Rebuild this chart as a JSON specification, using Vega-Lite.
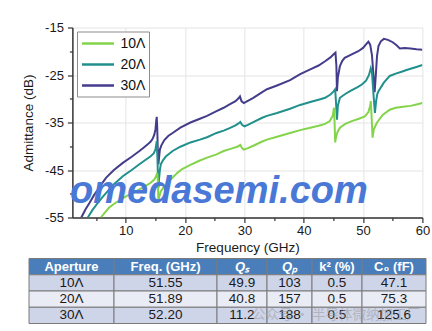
{
  "$schema": "https://vega.github.io/schema/vega-lite/v6.json",
  "background": "white",
  "padding": {"left": 21, "top": 21.5, "right": 0, "bottom": 0},
  "config": {
    "font": "Liberation Sans",
    "view": {"stroke": null},
    "axis": {
      "domainColor": "#333333", "domainWidth": 1.5,
      "tickColor": "#333333", "tickWidth": 1.2,
      "gridColor": "#e4e4e4", "gridWidth": 1,
      "labelColor": "#1a1a1a", "titleColor": "#1a1a1a",
      "labelFont": "Liberation Sans", "titleFont": "Liberation Sans"
    }
  },
  "datasets": {
    "curves": [
      {"aperture": "30Λ", "freq": 2.5, "adm": -55},
      {"aperture": "30Λ", "freq": 3.2, "adm": -53.3},
      {"aperture": "30Λ", "freq": 3.9, "adm": -51.9},
      {"aperture": "30Λ", "freq": 4.6, "adm": -50.4},
      {"aperture": "30Λ", "freq": 5.3, "adm": -49.1},
      {"aperture": "30Λ", "freq": 6.0, "adm": -47.8},
      {"aperture": "30Λ", "freq": 6.7, "adm": -46.6},
      {"aperture": "30Λ", "freq": 8.0, "adm": -45.0},
      {"aperture": "30Λ", "freq": 9.5, "adm": -43.5},
      {"aperture": "30Λ", "freq": 11.0, "adm": -42.2},
      {"aperture": "30Λ", "freq": 12.3, "adm": -41.0},
      {"aperture": "30Λ", "freq": 13.0, "adm": -40.3},
      {"aperture": "30Λ", "freq": 13.7, "adm": -39.6},
      {"aperture": "30Λ", "freq": 14.2, "adm": -39.0},
      {"aperture": "30Λ", "freq": 14.5, "adm": -38.5},
      {"aperture": "30Λ", "freq": 14.8, "adm": -37.6},
      {"aperture": "30Λ", "freq": 15.0, "adm": -36.5},
      {"aperture": "30Λ", "freq": 15.15, "adm": -34.5},
      {"aperture": "30Λ", "freq": 15.22, "adm": -33.8},
      {"aperture": "30Λ", "freq": 15.3, "adm": -36},
      {"aperture": "30Λ", "freq": 15.4, "adm": -41},
      {"aperture": "30Λ", "freq": 15.5, "adm": -43.8},
      {"aperture": "30Λ", "freq": 15.6, "adm": -42.5},
      {"aperture": "30Λ", "freq": 15.75, "adm": -40.7},
      {"aperture": "30Λ", "freq": 16.0, "adm": -39.8},
      {"aperture": "30Λ", "freq": 16.5, "adm": -38.7},
      {"aperture": "30Λ", "freq": 17.2, "adm": -37.8},
      {"aperture": "30Λ", "freq": 17.9, "adm": -37.2},
      {"aperture": "30Λ", "freq": 19.2, "adm": -36.1},
      {"aperture": "30Λ", "freq": 20.9, "adm": -35.0},
      {"aperture": "30Λ", "freq": 22.5, "adm": -34.2},
      {"aperture": "30Λ", "freq": 23.7, "adm": -33.6},
      {"aperture": "30Λ", "freq": 25.3, "adm": -32.6},
      {"aperture": "30Λ", "freq": 26.5, "adm": -31.9},
      {"aperture": "30Λ", "freq": 27.5, "adm": -31.2},
      {"aperture": "30Λ", "freq": 28.5, "adm": -30.5},
      {"aperture": "30Λ", "freq": 29.0, "adm": -29.9},
      {"aperture": "30Λ", "freq": 29.25, "adm": -29.5},
      {"aperture": "30Λ", "freq": 29.5, "adm": -30.5},
      {"aperture": "30Λ", "freq": 29.9, "adm": -30.9},
      {"aperture": "30Λ", "freq": 30.5, "adm": -30.5},
      {"aperture": "30Λ", "freq": 31.5, "adm": -29.8},
      {"aperture": "30Λ", "freq": 33.0, "adm": -28.6},
      {"aperture": "30Λ", "freq": 33.8, "adm": -28.0},
      {"aperture": "30Λ", "freq": 35.5, "adm": -27.2},
      {"aperture": "30Λ", "freq": 37.7, "adm": -26.1},
      {"aperture": "30Λ", "freq": 39.4, "adm": -24.8},
      {"aperture": "30Λ", "freq": 41.1, "adm": -23.8},
      {"aperture": "30Λ", "freq": 42.5, "adm": -23.0},
      {"aperture": "30Λ", "freq": 43.6, "adm": -22.1},
      {"aperture": "30Λ", "freq": 44.5, "adm": -21.3},
      {"aperture": "30Λ", "freq": 45.0, "adm": -20.7},
      {"aperture": "30Λ", "freq": 45.35, "adm": -20.3},
      {"aperture": "30Λ", "freq": 45.5, "adm": -23},
      {"aperture": "30Λ", "freq": 45.6, "adm": -28.4},
      {"aperture": "30Λ", "freq": 45.75, "adm": -25.5},
      {"aperture": "30Λ", "freq": 46.1, "adm": -23.1},
      {"aperture": "30Λ", "freq": 46.5, "adm": -22.0},
      {"aperture": "30Λ", "freq": 46.9, "adm": -21.4},
      {"aperture": "30Λ", "freq": 48.0, "adm": -20.7},
      {"aperture": "30Λ", "freq": 49.2, "adm": -20.0},
      {"aperture": "30Λ", "freq": 50.0, "adm": -19.3},
      {"aperture": "30Λ", "freq": 50.6, "adm": -18.4},
      {"aperture": "30Λ", "freq": 50.9, "adm": -18.0},
      {"aperture": "30Λ", "freq": 51.2, "adm": -18.6},
      {"aperture": "30Λ", "freq": 51.5, "adm": -20.8},
      {"aperture": "30Λ", "freq": 51.75, "adm": -25},
      {"aperture": "30Λ", "freq": 51.95, "adm": -28.6},
      {"aperture": "30Λ", "freq": 52.15, "adm": -25},
      {"aperture": "30Λ", "freq": 52.35, "adm": -21},
      {"aperture": "30Λ", "freq": 52.6, "adm": -18.9},
      {"aperture": "30Λ", "freq": 53.0, "adm": -17.9},
      {"aperture": "30Λ", "freq": 53.5, "adm": -17.4},
      {"aperture": "30Λ", "freq": 54.2, "adm": -17.6},
      {"aperture": "30Λ", "freq": 55.0, "adm": -18.1},
      {"aperture": "30Λ", "freq": 55.6, "adm": -18.7},
      {"aperture": "30Λ", "freq": 56.2, "adm": -19.4},
      {"aperture": "30Λ", "freq": 57.0, "adm": -19.3},
      {"aperture": "30Λ", "freq": 58.0, "adm": -19.4},
      {"aperture": "30Λ", "freq": 59.0, "adm": -19.6},
      {"aperture": "30Λ", "freq": 60.0, "adm": -19.7},

      {"aperture": "20Λ", "freq": 3.6, "adm": -55},
      {"aperture": "20Λ", "freq": 4.4, "adm": -53.4},
      {"aperture": "20Λ", "freq": 5.3, "adm": -51.9},
      {"aperture": "20Λ", "freq": 6.0, "adm": -50.8},
      {"aperture": "20Λ", "freq": 6.7, "adm": -49.8},
      {"aperture": "20Λ", "freq": 8.0, "adm": -48.0},
      {"aperture": "20Λ", "freq": 9.5, "adm": -46.3},
      {"aperture": "20Λ", "freq": 11.0, "adm": -45.0},
      {"aperture": "20Λ", "freq": 12.3, "adm": -43.8},
      {"aperture": "20Λ", "freq": 13.3, "adm": -42.9},
      {"aperture": "20Λ", "freq": 14.2, "adm": -42.1},
      {"aperture": "20Λ", "freq": 14.7, "adm": -41.5},
      {"aperture": "20Λ", "freq": 15.0, "adm": -40.7},
      {"aperture": "20Λ", "freq": 15.15, "adm": -39.5},
      {"aperture": "20Λ", "freq": 15.22, "adm": -38.9},
      {"aperture": "20Λ", "freq": 15.32, "adm": -42},
      {"aperture": "20Λ", "freq": 15.42, "adm": -46},
      {"aperture": "20Λ", "freq": 15.5, "adm": -48.8},
      {"aperture": "20Λ", "freq": 15.6, "adm": -47},
      {"aperture": "20Λ", "freq": 15.75, "adm": -45},
      {"aperture": "20Λ", "freq": 15.9, "adm": -43.8},
      {"aperture": "20Λ", "freq": 16.3, "adm": -42.9},
      {"aperture": "20Λ", "freq": 16.8, "adm": -42.1},
      {"aperture": "20Λ", "freq": 17.9, "adm": -41.0},
      {"aperture": "20Λ", "freq": 19.2, "adm": -40.1},
      {"aperture": "20Λ", "freq": 20.9, "adm": -39.2},
      {"aperture": "20Λ", "freq": 22.5, "adm": -38.6},
      {"aperture": "20Λ", "freq": 23.7, "adm": -38.1},
      {"aperture": "20Λ", "freq": 25.3, "adm": -37.2},
      {"aperture": "20Λ", "freq": 26.5, "adm": -36.7},
      {"aperture": "20Λ", "freq": 27.5, "adm": -36.2},
      {"aperture": "20Λ", "freq": 28.5, "adm": -35.6},
      {"aperture": "20Λ", "freq": 29.0, "adm": -35.2},
      {"aperture": "20Λ", "freq": 29.3, "adm": -34.9},
      {"aperture": "20Λ", "freq": 29.6, "adm": -35.5},
      {"aperture": "20Λ", "freq": 30.0, "adm": -35.8},
      {"aperture": "20Λ", "freq": 30.6, "adm": -35.5},
      {"aperture": "20Λ", "freq": 31.5, "adm": -34.9},
      {"aperture": "20Λ", "freq": 33.0, "adm": -34.0},
      {"aperture": "20Λ", "freq": 33.8, "adm": -33.6},
      {"aperture": "20Λ", "freq": 35.5, "adm": -33.0},
      {"aperture": "20Λ", "freq": 37.7, "adm": -32.1},
      {"aperture": "20Λ", "freq": 39.4, "adm": -31.3},
      {"aperture": "20Λ", "freq": 41.1, "adm": -30.7},
      {"aperture": "20Λ", "freq": 42.8, "adm": -30.1},
      {"aperture": "20Λ", "freq": 43.6, "adm": -29.8},
      {"aperture": "20Λ", "freq": 44.5, "adm": -29.1},
      {"aperture": "20Λ", "freq": 45.0, "adm": -28.5},
      {"aperture": "20Λ", "freq": 45.3, "adm": -28.0},
      {"aperture": "20Λ", "freq": 45.45, "adm": -31},
      {"aperture": "20Λ", "freq": 45.6, "adm": -34.4},
      {"aperture": "20Λ", "freq": 45.75, "adm": -31.5},
      {"aperture": "20Λ", "freq": 46.1, "adm": -29.8},
      {"aperture": "20Λ", "freq": 47.0, "adm": -29.0},
      {"aperture": "20Λ", "freq": 47.8, "adm": -28.4},
      {"aperture": "20Λ", "freq": 49.0, "adm": -27.6},
      {"aperture": "20Λ", "freq": 49.8, "adm": -27.0},
      {"aperture": "20Λ", "freq": 50.5, "adm": -26.2},
      {"aperture": "20Λ", "freq": 51.0, "adm": -25.0},
      {"aperture": "20Λ", "freq": 51.3, "adm": -23.6},
      {"aperture": "20Λ", "freq": 51.5, "adm": -24.5},
      {"aperture": "20Λ", "freq": 51.75, "adm": -29},
      {"aperture": "20Λ", "freq": 52.0, "adm": -33.0},
      {"aperture": "20Λ", "freq": 52.2, "adm": -30.5},
      {"aperture": "20Λ", "freq": 52.4, "adm": -29},
      {"aperture": "20Λ", "freq": 52.6, "adm": -28.4},
      {"aperture": "20Λ", "freq": 53.5, "adm": -26.6},
      {"aperture": "20Λ", "freq": 54.5, "adm": -25.2},
      {"aperture": "20Λ", "freq": 55.5, "adm": -24.7},
      {"aperture": "20Λ", "freq": 56.5, "adm": -24.3},
      {"aperture": "20Λ", "freq": 57.2, "adm": -24.0},
      {"aperture": "20Λ", "freq": 58.0, "adm": -23.7},
      {"aperture": "20Λ", "freq": 59.0, "adm": -23.3},
      {"aperture": "20Λ", "freq": 60.0, "adm": -22.9},

      {"aperture": "10Λ", "freq": 5.8, "adm": -55},
      {"aperture": "10Λ", "freq": 6.5, "adm": -53.9},
      {"aperture": "10Λ", "freq": 7.2, "adm": -52.9},
      {"aperture": "10Λ", "freq": 8.3, "adm": -51.9},
      {"aperture": "10Λ", "freq": 9.5, "adm": -50.9},
      {"aperture": "10Λ", "freq": 11.0, "adm": -49.9},
      {"aperture": "10Λ", "freq": 12.3, "adm": -49.1},
      {"aperture": "10Λ", "freq": 13.3, "adm": -48.4},
      {"aperture": "10Λ", "freq": 14.2, "adm": -47.7},
      {"aperture": "10Λ", "freq": 14.8, "adm": -47.0},
      {"aperture": "10Λ", "freq": 15.1, "adm": -46.4},
      {"aperture": "10Λ", "freq": 15.3, "adm": -45.6},
      {"aperture": "10Λ", "freq": 15.4, "adm": -47},
      {"aperture": "10Λ", "freq": 15.5, "adm": -51.9},
      {"aperture": "10Λ", "freq": 15.65, "adm": -50.6},
      {"aperture": "10Λ", "freq": 15.9, "adm": -49.5},
      {"aperture": "10Λ", "freq": 16.5, "adm": -48.4},
      {"aperture": "10Λ", "freq": 17.2, "adm": -47.5},
      {"aperture": "10Λ", "freq": 17.9, "adm": -46.6},
      {"aperture": "10Λ", "freq": 18.7, "adm": -45.6},
      {"aperture": "10Λ", "freq": 19.5, "adm": -44.8},
      {"aperture": "10Λ", "freq": 20.9, "adm": -43.9},
      {"aperture": "10Λ", "freq": 22.3, "adm": -43.1},
      {"aperture": "10Λ", "freq": 23.7, "adm": -42.4},
      {"aperture": "10Λ", "freq": 25.3, "adm": -41.7},
      {"aperture": "10Λ", "freq": 26.5, "adm": -41.0},
      {"aperture": "10Λ", "freq": 27.8, "adm": -40.5},
      {"aperture": "10Λ", "freq": 28.8, "adm": -40.1},
      {"aperture": "10Λ", "freq": 29.3, "adm": -39.7},
      {"aperture": "10Λ", "freq": 29.6, "adm": -40.4},
      {"aperture": "10Λ", "freq": 29.9, "adm": -40.7},
      {"aperture": "10Λ", "freq": 30.6, "adm": -40.4},
      {"aperture": "10Λ", "freq": 31.5, "adm": -39.9},
      {"aperture": "10Λ", "freq": 33.0, "adm": -39.0},
      {"aperture": "10Λ", "freq": 33.8, "adm": -38.6},
      {"aperture": "10Λ", "freq": 35.5, "adm": -38.0},
      {"aperture": "10Λ", "freq": 37.7, "adm": -37.2},
      {"aperture": "10Λ", "freq": 39.4, "adm": -36.6},
      {"aperture": "10Λ", "freq": 41.1, "adm": -36.1},
      {"aperture": "10Λ", "freq": 42.5, "adm": -35.7},
      {"aperture": "10Λ", "freq": 43.6, "adm": -35.3},
      {"aperture": "10Λ", "freq": 44.4, "adm": -34.7},
      {"aperture": "10Λ", "freq": 44.9, "adm": -33.5},
      {"aperture": "10Λ", "freq": 45.1, "adm": -31.9},
      {"aperture": "10Λ", "freq": 45.2, "adm": -35},
      {"aperture": "10Λ", "freq": 45.3, "adm": -39.2},
      {"aperture": "10Λ", "freq": 45.45, "adm": -38},
      {"aperture": "10Λ", "freq": 45.7, "adm": -37},
      {"aperture": "10Λ", "freq": 46.1, "adm": -36.1},
      {"aperture": "10Λ", "freq": 47.0, "adm": -35.3},
      {"aperture": "10Λ", "freq": 48.1, "adm": -34.7},
      {"aperture": "10Λ", "freq": 49.3, "adm": -34.2},
      {"aperture": "10Λ", "freq": 50.3, "adm": -33.7},
      {"aperture": "10Λ", "freq": 50.9, "adm": -32.8},
      {"aperture": "10Λ", "freq": 51.2, "adm": -31.5},
      {"aperture": "10Λ", "freq": 51.3, "adm": -30.5},
      {"aperture": "10Λ", "freq": 51.45, "adm": -34},
      {"aperture": "10Λ", "freq": 51.6, "adm": -38.2},
      {"aperture": "10Λ", "freq": 51.8, "adm": -36.5},
      {"aperture": "10Λ", "freq": 52.3, "adm": -35.1},
      {"aperture": "10Λ", "freq": 53.3, "adm": -33.4},
      {"aperture": "10Λ", "freq": 54.5, "adm": -32.3},
      {"aperture": "10Λ", "freq": 55.5, "adm": -31.9},
      {"aperture": "10Λ", "freq": 56.7, "adm": -31.7},
      {"aperture": "10Λ", "freq": 58.0, "adm": -31.5},
      {"aperture": "10Λ", "freq": 59.0, "adm": -31.2},
      {"aperture": "10Λ", "freq": 60.0, "adm": -30.9}
    ],
    "table": [
      {"col": "Aperture", "row": "h", "value": "Aperture"},
      {"col": "Aperture", "row": "10Λ", "value": "10Λ"},
      {"col": "Aperture", "row": "20Λ", "value": "20Λ"},
      {"col": "Aperture", "row": "30Λ", "value": "30Λ"},
      {"col": "Freq", "row": "h", "value": "Freq. (GHz)"},
      {"col": "Freq", "row": "10Λ", "value": "51.55"},
      {"col": "Freq", "row": "20Λ", "value": "51.89"},
      {"col": "Freq", "row": "30Λ", "value": "52.20"},
      {"col": "Qs", "row": "h", "value": "Qₛ"},
      {"col": "Qs", "row": "10Λ", "value": "49.9"},
      {"col": "Qs", "row": "20Λ", "value": "40.8"},
      {"col": "Qs", "row": "30Λ", "value": "11.2"},
      {"col": "Qp", "row": "h", "value": "Qₚ"},
      {"col": "Qp", "row": "10Λ", "value": "103"},
      {"col": "Qp", "row": "20Λ", "value": "157"},
      {"col": "Qp", "row": "30Λ", "value": "188"},
      {"col": "k2", "row": "h", "value": "k² (%)"},
      {"col": "k2", "row": "10Λ", "value": "0.5"},
      {"col": "k2", "row": "20Λ", "value": "0.5"},
      {"col": "k2", "row": "30Λ", "value": "0.5"},
      {"col": "C0", "row": "h", "value": "C₀ (fF)"},
      {"col": "C0", "row": "10Λ", "value": "47.1"},
      {"col": "C0", "row": "20Λ", "value": "75.3"},
      {"col": "C0", "row": "30Λ", "value": "125.6"}
    ]
  },
  "spacing": 3,
  "center": true,
  "vconcat": [
    {
      "width": 350,
      "height": 190,
      "layer": [
        {
          "data": {"name": "curves"},
          "mark": {"type": "line", "strokeWidth": 2, "clip": true},
          "encoding": {
            "x": {
              "field": "freq", "type": "quantitative",
              "scale": {"domain": [1, 60], "nice": false, "zero": false},
              "axis": {
                "values": [5, 10, 15, 20, 25, 30, 35, 40, 45, 50, 55, 60],
                "title": "Frequency (GHz)", "titleFontSize": 13.5, "titleFontWeight": "normal", "titlePadding": 3,
                "labelFontSize": 13, "labelPadding": 2, "labelFlush": false, "labelOverlap": false,
                "labelExpr": "datum.value % 10 === 0 ? '' + datum.value : ''",
                "tickSize": {"condition": {"test": "datum.value % 10 === 0", "value": 5}, "value": 3},
                "grid": true,
                "gridOpacity": {"condition": {"test": "datum.value % 10 === 0", "value": 1}, "value": 0}
              }
            },
            "y": {
              "field": "adm", "type": "quantitative",
              "scale": {"domain": [-55, -15], "nice": false, "zero": false},
              "axis": {
                "values": [-55, -50, -45, -40, -35, -30, -25, -20, -15],
                "title": "Admittance (dB)", "titleFontSize": 13.5, "titleFontWeight": "normal", "titlePadding": 9.5,
                "labelFontSize": 13, "labelPadding": 4, "labelFlush": false, "labelOverlap": false,
                "labelExpr": "(datum.value + 55) % 10 === 0 ? '' + datum.value : ''",
                "tickSize": {"condition": {"test": "(datum.value + 55) % 10 === 0", "value": 5}, "value": 3},
                "grid": true,
                "gridOpacity": {"condition": {"test": "(datum.value + 55) % 10 === 0", "value": 1}, "value": 0}
              }
            },
            "color": {
              "field": "aperture", "type": "nominal",
              "scale": {"domain": ["10Λ", "20Λ", "30Λ"], "range": ["#84d44b", "#21908c", "#433d8b"]},
              "legend": {
                "title": null, "orient": "none", "legendX": 48, "legendY": 4,
                "symbolType": "M-1,0H3.57", "symbolSize": 196, "symbolStrokeWidth": 2.5,
                "labelFontSize": 14, "labelColor": "#111111", "labelOffset": 23, "labelFont": "Liberation Sans",
                "strokeColor": "#8c8c8c", "fillColor": "white", "padding": 3.5, "rowPadding": 5
              }
            }
          }
        },
        {
          "data": {"values": [{"label": "omedasemi.com"}]},
          "mark": {"type": "text", "font": "Liberation Sans", "fontWeight": "bold", "fontStyle": "italic", "fontSize": 38, "fill": "#4a78d6", "align": "center", "baseline": "alphabetic", "dx": -28.5, "dy": 80},
          "encoding": {
            "text": {"field": "label"}
          }
        }
      ]
    },
    {
      "spacing": 0,
      "bounds": "flush",
      "hconcat": [
        {
          "width": 85, "height": 65,
          "data": {"name": "table"},
          "transform": [{"filter": "datum.col === 'Aperture'"}],
          "encoding": {"y": {"field": "row", "type": "ordinal", "sort": ["h", "10Λ", "20Λ", "30Λ"], "axis": null, "scale": {"paddingInner": 0, "paddingOuter": 0}}},
          "layer": [
            {"mark": {"type": "rect", "stroke": "#7a7a7a", "strokeWidth": 1}, "encoding": {"x": {"value": 0}, "x2": {"value": "width"}, "fill": {"field": "row", "type": "nominal", "scale": {"domain": ["h", "10Λ", "20Λ", "30Λ"], "range": ["#4a7ebb", "#cfd5e9", "#e9ebf5", "#cfd5e9"]}, "legend": null}}},
            {"transform": [{"filter": "datum.row === 'h'"}], "mark": {"type": "text", "fontWeight": "bold", "fontSize": 13, "fill": "white", "baseline": "middle"}, "encoding": {"text": {"field": "value"}}},
            {"transform": [{"filter": "datum.row !== 'h'"}], "mark": {"type": "text", "fontSize": 13.5, "fill": "#1a1a1a", "baseline": "middle"}, "encoding": {"text": {"field": "value"}}}
          ]
        },
        {
          "width": 103, "height": 65,
          "data": {"name": "table"},
          "transform": [{"filter": "datum.col === 'Freq'"}],
          "encoding": {"y": {"field": "row", "type": "ordinal", "sort": ["h", "10Λ", "20Λ", "30Λ"], "axis": null, "scale": {"paddingInner": 0, "paddingOuter": 0}}},
          "layer": [
            {"mark": {"type": "rect", "stroke": "#7a7a7a", "strokeWidth": 1}, "encoding": {"x": {"value": 0}, "x2": {"value": "width"}, "fill": {"field": "row", "type": "nominal", "scale": {"domain": ["h", "10Λ", "20Λ", "30Λ"], "range": ["#4a7ebb", "#cfd5e9", "#e9ebf5", "#cfd5e9"]}, "legend": null}}},
            {"transform": [{"filter": "datum.row === 'h'"}], "mark": {"type": "text", "fontWeight": "bold", "fontSize": 13, "fill": "white", "baseline": "middle"}, "encoding": {"text": {"field": "value"}}},
            {"transform": [{"filter": "datum.row !== 'h'"}], "mark": {"type": "text", "fontSize": 13.5, "fill": "#1a1a1a", "baseline": "middle"}, "encoding": {"text": {"field": "value"}}}
          ]
        },
        {
          "width": 50, "height": 65,
          "data": {"name": "table"},
          "transform": [{"filter": "datum.col === 'Qs'"}],
          "encoding": {"y": {"field": "row", "type": "ordinal", "sort": ["h", "10Λ", "20Λ", "30Λ"], "axis": null, "scale": {"paddingInner": 0, "paddingOuter": 0}}},
          "layer": [
            {"mark": {"type": "rect", "stroke": "#7a7a7a", "strokeWidth": 1}, "encoding": {"x": {"value": 0}, "x2": {"value": "width"}, "fill": {"field": "row", "type": "nominal", "scale": {"domain": ["h", "10Λ", "20Λ", "30Λ"], "range": ["#4a7ebb", "#cfd5e9", "#e9ebf5", "#cfd5e9"]}, "legend": null}}},
            {"transform": [{"filter": "datum.row === 'h'"}], "mark": {"type": "text", "fontWeight": "bold", "fontStyle": "italic", "fontSize": 13, "fill": "white", "baseline": "middle"}, "encoding": {"text": {"field": "value"}}},
            {"transform": [{"filter": "datum.row !== 'h'"}], "mark": {"type": "text", "fontSize": 13.5, "fill": "#1a1a1a", "baseline": "middle"}, "encoding": {"text": {"field": "value"}}}
          ]
        },
        {
          "width": 45, "height": 65,
          "data": {"name": "table"},
          "transform": [{"filter": "datum.col === 'Qp'"}],
          "encoding": {"y": {"field": "row", "type": "ordinal", "sort": ["h", "10Λ", "20Λ", "30Λ"], "axis": null, "scale": {"paddingInner": 0, "paddingOuter": 0}}},
          "layer": [
            {"mark": {"type": "rect", "stroke": "#7a7a7a", "strokeWidth": 1}, "encoding": {"x": {"value": 0}, "x2": {"value": "width"}, "fill": {"field": "row", "type": "nominal", "scale": {"domain": ["h", "10Λ", "20Λ", "30Λ"], "range": ["#4a7ebb", "#cfd5e9", "#e9ebf5", "#cfd5e9"]}, "legend": null}}},
            {"transform": [{"filter": "datum.row === 'h'"}], "mark": {"type": "text", "fontWeight": "bold", "fontStyle": "italic", "fontSize": 13, "fill": "white", "baseline": "middle"}, "encoding": {"text": {"field": "value"}}},
            {"transform": [{"filter": "datum.row !== 'h'"}], "mark": {"type": "text", "fontSize": 13.5, "fill": "#1a1a1a", "baseline": "middle"}, "encoding": {"text": {"field": "value"}}}
          ]
        },
        {
          "width": 50, "height": 65,
          "data": {"name": "table"},
          "transform": [{"filter": "datum.col === 'k2'"}],
          "encoding": {"y": {"field": "row", "type": "ordinal", "sort": ["h", "10Λ", "20Λ", "30Λ"], "axis": null, "scale": {"paddingInner": 0, "paddingOuter": 0}}},
          "layer": [
            {"mark": {"type": "rect", "stroke": "#7a7a7a", "strokeWidth": 1}, "encoding": {"x": {"value": 0}, "x2": {"value": "width"}, "fill": {"field": "row", "type": "nominal", "scale": {"domain": ["h", "10Λ", "20Λ", "30Λ"], "range": ["#4a7ebb", "#cfd5e9", "#e9ebf5", "#cfd5e9"]}, "legend": null}}},
            {"transform": [{"filter": "datum.row === 'h'"}], "mark": {"type": "text", "fontWeight": "bold", "fontSize": 13, "fill": "white", "baseline": "middle"}, "encoding": {"text": {"field": "value"}}},
            {"transform": [{"filter": "datum.row !== 'h'"}], "mark": {"type": "text", "fontSize": 13.5, "fill": "#1a1a1a", "baseline": "middle"}, "encoding": {"text": {"field": "value"}}}
          ]
        },
        {
          "width": 64, "height": 65,
          "data": {"name": "table"},
          "transform": [{"filter": "datum.col === 'C0'"}],
          "encoding": {"y": {"field": "row", "type": "ordinal", "sort": ["h", "10Λ", "20Λ", "30Λ"], "axis": null, "scale": {"paddingInner": 0, "paddingOuter": 0}}},
          "layer": [
            {"mark": {"type": "rect", "stroke": "#7a7a7a", "strokeWidth": 1}, "encoding": {"x": {"value": 0}, "x2": {"value": "width"}, "fill": {"field": "row", "type": "nominal", "scale": {"domain": ["h", "10Λ", "20Λ", "30Λ"], "range": ["#4a7ebb", "#cfd5e9", "#e9ebf5", "#cfd5e9"]}, "legend": null}}},
            {"transform": [{"filter": "datum.row === 'h'"}], "mark": {"type": "text", "fontWeight": "bold", "fontSize": 13, "fill": "white", "baseline": "middle"}, "encoding": {"text": {"field": "value"}}},
            {"transform": [{"filter": "datum.row !== 'h'"}], "mark": {"type": "text", "fontSize": 13.5, "fill": "#1a1a1a", "baseline": "middle"}, "encoding": {"text": {"field": "value"}}},
            {"transform": [{"filter": "datum.row === '30Λ'"}], "mark": {"type": "text", "font": "Noto Sans CJK SC", "fontSize": 13.5, "fill": "#9a9a9a", "opacity": 0.55, "align": "right", "baseline": "middle", "dx": 26}, "encoding": {"text": {"value": "公众号 · 半导体微纳加工厂"}}}
          ]
        },
        {
          "width": 47, "height": 65,
          "data": {"values": [{"blank": ""}]},
          "mark": {"type": "text"},
          "encoding": {"text": {"field": "blank"}}
        }
      ]
    }
  ]
}
